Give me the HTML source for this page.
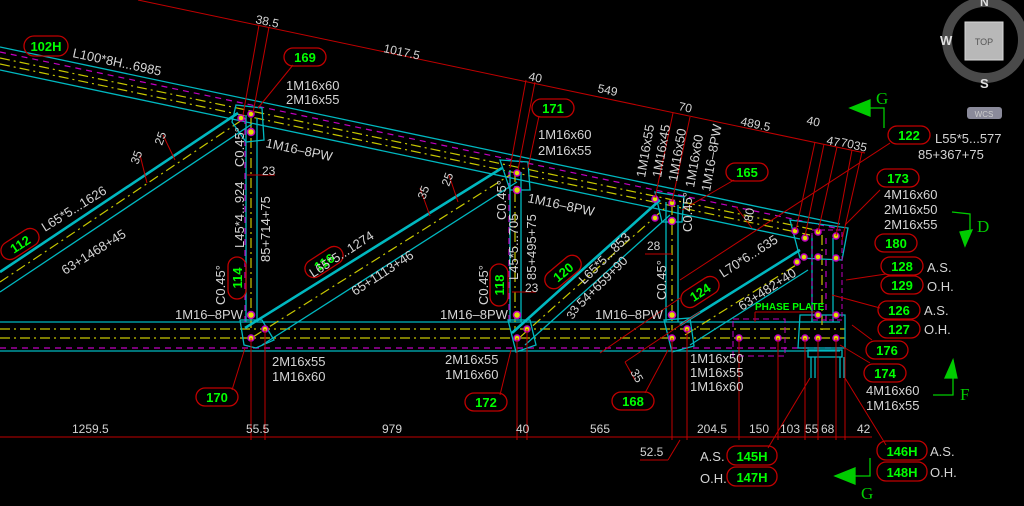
<!DOCTYPE html>
<html><head><meta charset="utf-8"><style>
html,body{margin:0;padding:0;background:#000;}
svg{display:block}
text{font-family:"Liberation Sans",sans-serif;}
.w{fill:#d4d4d4;font-size:13px}
.g{fill:#00ff00;font-size:13px;font-weight:bold;text-anchor:middle}
.d{fill:#d4d4d4;font-size:12px}
.box{fill:none;stroke:#c00000;stroke-width:1.3}
.cy{stroke:#00b8c0;stroke-width:1.3;fill:none}
.cyb{stroke:#00b8c0;stroke-width:2.6;fill:none}
.ye{stroke:#c8c800;stroke-width:1.2;stroke-dasharray:10 4 2 4;fill:none}
.mg{stroke:#c000c0;stroke-width:1.2;stroke-dasharray:6 5;fill:none}
.r{stroke:#c00000;stroke-width:1;fill:none}
.bolt{fill:#e0e000;stroke:#c000c0;stroke-width:1.5}
</style></head><body>
<svg width="1024" height="506" viewBox="0 0 1024 506" xmlns="http://www.w3.org/2000/svg">
<rect width="1024" height="506" fill="#000"/>

<line class="r" x1="138" y1="0" x2="865" y2="153"/>
<line class="r" x1="0" y1="437" x2="872" y2="437"/>

<line class="cy" x1="0" y1="47" x2="840" y2="224"/>
<line class="cy" x1="0" y1="70" x2="800" y2="239"/>
<line class="mg" x1="0" y1="52" x2="840" y2="229"/>
<line class="ye" x1="0" y1="58" x2="820" y2="231"/>
<line class="ye" x1="0" y1="64" x2="810" y2="235"/>

<line class="cy" x1="0" y1="322" x2="840" y2="322"/>
<line class="cy" x1="0" y1="351" x2="840" y2="351"/>
<line class="ye" x1="0" y1="329" x2="845" y2="329"/>
<line class="ye" x1="0" y1="338" x2="845" y2="338"/>
<line class="mg" x1="0" y1="348" x2="845" y2="348"/>

<g>
<line class="cy" x1="246" y1="115" x2="246" y2="322"/><line class="cy" x1="257" y1="118" x2="257" y2="322"/>
<line class="ye" x1="251" y1="118" x2="251" y2="330"/><line class="mg" x1="245" y1="118" x2="245" y2="322"/>
<line class="cy" x1="510" y1="170" x2="510" y2="322"/><line class="cy" x1="521" y1="172" x2="521" y2="322"/>
<line class="ye" x1="515" y1="172" x2="515" y2="330"/><line class="mg" x1="509" y1="172" x2="509" y2="322"/>
<line class="cy" x1="666" y1="202" x2="666" y2="322"/><line class="cy" x1="678" y1="205" x2="678" y2="322"/>
<line class="ye" x1="672" y1="205" x2="672" y2="330"/>
<line class="cy" x1="812" y1="235" x2="812" y2="322"/><line class="cy" x1="833" y1="238" x2="833" y2="322"/>
<line class="ye" x1="822" y1="235" x2="822" y2="330"/><line class="mg" x1="826" y1="238" x2="826" y2="322"/>
</g>

<line class="cyb" x1="0" y1="272" x2="238" y2="113"/>
<line class="cy" x1="0" y1="292" x2="252" y2="124"/>
<line class="ye" x1="0" y1="282" x2="245" y2="118"/>
<line class="cyb" x1="245" y1="328" x2="502" y2="168"/>
<line class="cy" x1="262" y1="345" x2="517" y2="182"/>
<line class="ye" x1="253" y1="337" x2="510" y2="175"/>
<line class="cyb" x1="512" y1="333" x2="660" y2="200"/>
<line class="cy" x1="525" y1="345" x2="670" y2="215"/>
<line class="ye" x1="518" y1="339" x2="665" y2="208"/>
<line class="cyb" x1="680" y1="325" x2="800" y2="250"/>
<line class="cy" x1="690" y1="345" x2="808" y2="270"/>
<line class="ye" x1="685" y1="335" x2="804" y2="260"/>

<g class="cy">
<polygon points="236,105 262,108 264,140 246,142 232,122"/>
<polygon points="240,320 262,320 274,340 256,348 244,345"/>
<polygon points="500,160 528,162 530,190 510,190"/>
<polygon points="508,320 530,320 536,345 516,352"/>
<polygon points="655,192 684,197 682,222 662,222"/>
<polygon points="664,320 690,318 694,346 672,352"/>
<polygon points="790,220 848,228 842,260 800,258"/>
<polygon points="800,315 845,315 845,348 798,348"/>
<rect x="808" y="350" width="34" height="7"/>
<line x1="811" y1="357" x2="811" y2="378"/><line x1="815" y1="357" x2="815" y2="378"/>
<line x1="840" y1="357" x2="840" y2="378"/><line x1="844" y1="357" x2="844" y2="378"/>
</g>
<rect x="733" y="319" width="52" height="37" fill="none" stroke="#c000c0" stroke-dasharray="6 4"/>
<rect x="812" y="230" width="30" height="90" fill="none" stroke="#c000c0" stroke-dasharray="5 3"/>

<g>
<circle class="bolt" cx="241" cy="118" r="3"/><circle class="bolt" cx="251" cy="114" r="3"/><circle class="bolt" cx="251" cy="132" r="3.5"/>
<circle class="bolt" cx="251" cy="315" r="3.5"/><circle class="bolt" cx="251" cy="338" r="3"/><circle class="bolt" cx="265" cy="329" r="3"/>
<circle class="bolt" cx="517" cy="173" r="3"/><circle class="bolt" cx="517" cy="190" r="3.5"/>
<circle class="bolt" cx="517" cy="315" r="3.5"/><circle class="bolt" cx="517" cy="338" r="3"/><circle class="bolt" cx="527" cy="329" r="3"/>
<circle class="bolt" cx="655" cy="199" r="3"/><circle class="bolt" cx="672" cy="203" r="3"/><circle class="bolt" cx="655" cy="218" r="3"/><circle class="bolt" cx="672" cy="221" r="3.5"/>
<circle class="bolt" cx="672" cy="315" r="3.5"/><circle class="bolt" cx="672" cy="338" r="3"/><circle class="bolt" cx="687" cy="329" r="3"/>
<circle class="bolt" cx="795" cy="231" r="3"/><circle class="bolt" cx="805" cy="238" r="3"/><circle class="bolt" cx="818" cy="232" r="3"/><circle class="bolt" cx="836" cy="236" r="3"/>
<circle class="bolt" cx="818" cy="257" r="3"/><circle class="bolt" cx="836" cy="258" r="3"/>
<circle class="bolt" cx="804" cy="257" r="3"/><circle class="bolt" cx="797" cy="262" r="3"/>
<circle class="bolt" cx="818" cy="315" r="3"/><circle class="bolt" cx="836" cy="315" r="3"/>
<circle class="bolt" cx="805" cy="338" r="3"/><circle class="bolt" cx="818" cy="338" r="3"/><circle class="bolt" cx="836" cy="338" r="3"/>
<circle class="bolt" cx="739" cy="338" r="3"/><circle class="bolt" cx="778" cy="338" r="3"/>
</g>

<g class="r">
<line x1="259" y1="25" x2="243" y2="115"/><line x1="269" y1="27" x2="253" y2="113"/>
<line x1="293" y1="65" x2="258" y2="108"/>
<line x1="251" y1="338" x2="251" y2="440"/><line x1="265" y1="329" x2="265" y2="440"/>
<line x1="245" y1="348" x2="232" y2="390"/>
<line x1="526" y1="80" x2="510" y2="168"/><line x1="535" y1="82" x2="518" y2="170"/>
<line x1="539" y1="116" x2="528" y2="168"/>
<line x1="673" y1="113" x2="655" y2="198"/><line x1="690" y1="117" x2="672" y2="202"/>
<line x1="734" y1="180" x2="682" y2="210"/>
<line x1="815" y1="142" x2="796" y2="230"/><line x1="824" y1="144" x2="805" y2="236"/><line x1="837" y1="147" x2="818" y2="232"/>
<line x1="852" y1="150" x2="836" y2="236"/><line x1="862" y1="152" x2="842" y2="240"/>
<line x1="890" y1="143" x2="680" y2="280"/>
<line x1="880" y1="190" x2="845" y2="225"/>
<line x1="517" y1="338" x2="517" y2="440"/><line x1="527" y1="329" x2="527" y2="440"/>
<line x1="511" y1="350" x2="500" y2="395"/>
<line x1="672" y1="338" x2="672" y2="440"/><line x1="687" y1="329" x2="687" y2="440"/>
<line x1="668" y1="350" x2="645" y2="393"/>
<line x1="739" y1="338" x2="739" y2="440"/><line x1="778" y1="338" x2="778" y2="440"/>
<line x1="805" y1="338" x2="805" y2="440"/><line x1="818" y1="338" x2="818" y2="440"/><line x1="836" y1="338" x2="836" y2="440"/>
<line x1="845" y1="348" x2="845" y2="440"/>
<line x1="846" y1="280" x2="886" y2="274"/><line x1="832" y1="295" x2="880" y2="308"/>
<line x1="852" y1="325" x2="872" y2="340"/><line x1="840" y1="345" x2="870" y2="363"/>
<line x1="810" y1="378" x2="768" y2="448"/><line x1="845" y1="378" x2="886" y2="445"/>
<line x1="680" y1="440" x2="668" y2="460"/><line x1="668" y1="460" x2="640" y2="460"/>
<line x1="600" y1="353" x2="680" y2="298"/><line x1="625" y1="362" x2="700" y2="312"/>
<line x1="625" y1="362" x2="635" y2="380"/>
<line x1="140" y1="155" x2="147" y2="183"/><line x1="163" y1="135" x2="175" y2="160"/>
<line x1="420" y1="188" x2="430" y2="216"/><line x1="449" y1="175" x2="458" y2="202"/>
<line x1="736" y1="207" x2="752" y2="228"/>
<line x1="247" y1="175" x2="275" y2="175"/>
<line x1="512" y1="292" x2="536" y2="292"/>
<line x1="645" y1="254" x2="672" y2="254"/>
<line x1="755" y1="312" x2="815" y2="312"/><line x1="755" y1="312" x2="755" y2="322"/>
</g>

<circle cx="985" cy="40" r="38" fill="none" stroke="#4a4a4a" stroke-width="10"/>
<rect x="965" y="22" width="38" height="38" fill="#b8b8b8" stroke="#d8d8d8"/>
<text x="984" y="45" style="font-size:9px;fill:#555;text-anchor:middle">TOP</text>
<text x="940" y="45" style="font-size:13px;fill:#e0e0e0;font-weight:bold">W</text>
<text x="980" y="88" style="font-size:13px;fill:#e0e0e0;font-weight:bold">S</text>
<text x="980" y="6" style="font-size:12px;fill:#e0e0e0;font-weight:bold">N</text>
<rect x="967" y="107" width="35" height="12" rx="3" fill="#8a8a9a"/>
<text x="984" y="117" style="font-size:8px;fill:#ccc;text-anchor:middle">WCS</text>

<g fill="#00cc00" stroke="#00cc00" stroke-width="1.3">
<polygon points="850,108 870,100 870,116"/><polyline fill="none" points="850,108 884,108 884,128"/>
<text x="876" y="104" style="font-size:17px;font-family:'Liberation Serif',serif;stroke:none">G</text>
<polyline fill="none" points="952,212 970,214 970,230"/><polygon points="960,232 972,230 965,246"/>
<text x="977" y="232" style="font-size:17px;font-family:'Liberation Serif',serif;stroke:none">D</text>
<polygon points="945,378 953,360 957,378"/><polyline fill="none" points="953,360 953,395 933,395"/>
<text x="960" y="400" style="font-size:17px;font-family:'Liberation Serif',serif;stroke:none">F</text>
<polygon points="835,476 855,468 855,484"/><polyline fill="none" points="835,476 870,476 870,458"/>
<text x="861" y="499" style="font-size:17px;font-family:'Liberation Serif',serif;stroke:none">G</text>
</g>

<g>
<rect class="box" x="24" y="36" width="44" height="20" rx="10"/><text class="g" x="46" y="51">102H</text>
<rect class="box" x="284" y="48" width="42" height="18" rx="9"/><text class="g" x="305" y="62">169</text>
<rect class="box" x="532" y="99" width="42" height="18" rx="9"/><text class="g" x="553" y="113">171</text>
<rect class="box" x="726" y="163" width="42" height="18" rx="9"/><text class="g" x="747" y="177">165</text>
<rect class="box" x="888" y="126" width="42" height="18" rx="9"/><text class="g" x="909" y="140">122</text>
<rect class="box" x="877" y="169" width="42" height="18" rx="9"/><text class="g" x="898" y="183">173</text>
<rect class="box" x="875" y="234" width="42" height="18" rx="9"/><text class="g" x="896" y="248">180</text>
<rect class="box" x="881" y="257" width="42" height="18" rx="9"/><text class="g" x="902" y="271">128</text>
<rect class="box" x="881" y="276" width="42" height="18" rx="9"/><text class="g" x="902" y="290">129</text>
<rect class="box" x="878" y="301" width="42" height="18" rx="9"/><text class="g" x="899" y="315">126</text>
<rect class="box" x="878" y="320" width="42" height="18" rx="9"/><text class="g" x="899" y="334">127</text>
<rect class="box" x="866" y="341" width="42" height="18" rx="9"/><text class="g" x="887" y="355">176</text>
<rect class="box" x="864" y="364" width="42" height="18" rx="9"/><text class="g" x="885" y="378">174</text>
<rect class="box" x="877" y="441" width="50" height="19" rx="9"/><text class="g" x="902" y="456">146H</text>
<rect class="box" x="877" y="462" width="50" height="19" rx="9"/><text class="g" x="902" y="477">148H</text>
<rect class="box" x="727" y="446" width="50" height="19" rx="9"/><text class="g" x="752" y="461">145H</text>
<rect class="box" x="727" y="467" width="50" height="19" rx="9"/><text class="g" x="752" y="482">147H</text>
<rect class="box" x="196" y="388" width="42" height="18" rx="9"/><text class="g" x="217" y="402">170</text>
<rect class="box" x="465" y="393" width="42" height="18" rx="9"/><text class="g" x="486" y="407">172</text>
<rect class="box" x="612" y="392" width="42" height="18" rx="9"/><text class="g" x="633" y="406">168</text>
<g transform="translate(237,278) rotate(-90)"><rect class="box" x="-21" y="-9" width="42" height="18" rx="9"/><text class="g" x="0" y="5">114</text></g>
<g transform="translate(499,285) rotate(-90)"><rect class="box" x="-21" y="-9" width="42" height="18" rx="9"/><text class="g" x="0" y="5">118</text></g>
<g transform="translate(20,244) rotate(-33)"><rect class="box" x="-21" y="-9" width="42" height="18" rx="9"/><text class="g" x="0" y="5">112</text></g>
<g transform="translate(324,262) rotate(-33)"><rect class="box" x="-21" y="-9" width="42" height="18" rx="9"/><text class="g" x="0" y="5">116</text></g>
<g transform="translate(563,272) rotate(-40)"><rect class="box" x="-21" y="-9" width="42" height="18" rx="9"/><text class="g" x="0" y="5">120</text></g>
<g transform="translate(700,292) rotate(-33)"><rect class="box" x="-21" y="-9" width="42" height="18" rx="9"/><text class="g" x="0" y="5">124</text></g>
</g>
<text x="755" y="310" style="font-size:10px;fill:#00ff00;font-weight:bold">PHASE PLATE</text>

<g class="w">
<text transform="translate(72,57) rotate(12)">L100*8H...6985</text>
<text transform="translate(255,23) rotate(12)" class="d">38.5</text>
<text transform="translate(383,52) rotate(12)" class="d">1017.5</text>
<text x="286" y="90">1M16x60</text><text x="286" y="104">2M16x55</text>
<text transform="translate(265,147) rotate(12)">1M16–8PW</text>
<text x="262" y="175" class="d">23</text>
<text transform="translate(244,167) rotate(-90)">C0.45°</text>
<text transform="translate(244,248) rotate(-90)">L45*4...924</text>
<text transform="translate(270,262) rotate(-90)">85+714+75</text>
<text transform="translate(225,305) rotate(-90)">C0.45°</text>
<text transform="translate(45,232) rotate(-32)">L65*5...1626</text>
<text transform="translate(65,275) rotate(-32)">63+1468+45</text>
<text transform="translate(138,165) rotate(-70)" class="d">35</text>
<text transform="translate(162,146) rotate(-70)" class="d">25</text>
<text x="175" y="319">1M16–8PW</text>
<text x="272" y="366">2M16x55</text><text x="272" y="381">1M16x60</text>
<text transform="translate(313,278) rotate(-33)">L65*5...1274</text>
<text transform="translate(355,296) rotate(-33)">65+1113+46</text>
<text transform="translate(425,200) rotate(-70)" class="d">35</text>
<text transform="translate(449,187) rotate(-70)" class="d">25</text>
<text transform="translate(506,220) rotate(-90)">C0.45°</text>
<text transform="translate(518,280) rotate(-90)">L45*5...705</text>
<text transform="translate(536,280) rotate(-90)">85+495+75</text>
<text x="525" y="292" class="d">23</text>
<text transform="translate(488,305) rotate(-90)">C0.45°</text>
<text x="440" y="319">1M16–8PW</text>
<text x="445" y="364">2M16x55</text><text x="445" y="379">1M16x60</text>
<text x="538" y="139">1M16x60</text><text x="538" y="155">2M16x55</text>
<text transform="translate(527,202) rotate(12)">1M16–8PW</text>
<text transform="translate(528,80) rotate(12)" class="d">40</text>
<text transform="translate(597,92) rotate(12)" class="d">549</text>
<text transform="translate(678,110) rotate(12)" class="d">70</text>
<text transform="translate(740,125) rotate(12)" class="d">489.5</text>
<text transform="translate(806,124) rotate(12)" class="d">40</text>
<text transform="translate(826,144) rotate(12)" class="d">47</text>
<text transform="translate(840,146) rotate(12)" class="d">70</text>
<text transform="translate(853,149) rotate(12)" class="d">35</text>
<text transform="translate(645,178) rotate(-80)">1M16x55</text>
<text transform="translate(661,178) rotate(-80)">1M16x45</text>
<text transform="translate(677,182) rotate(-80)">1M16x50</text>
<text transform="translate(694,188) rotate(-80)">1M16x60</text>
<text transform="translate(710,192) rotate(-80)">1M16–8PW</text>
<text transform="translate(584,285) rotate(-45)">L65*5...853</text>
<text transform="translate(582,308) rotate(-45)">54+659+90</text>
<text transform="translate(573,320) rotate(-60)" class="d">33</text>
<text transform="translate(692,232) rotate(-90)">C0.45°</text>
<text x="647" y="250" class="d">28</text>
<text transform="translate(666,300) rotate(-90)">C0.45°</text>
<text x="595" y="319">1M16–8PW</text>
<text transform="translate(723,278) rotate(-33)">L70*6...635</text>
<text transform="translate(742,311) rotate(-33)">63+482+40</text>
<text transform="translate(752,222) rotate(-80)" class="d">80</text>
<text transform="translate(630,372) rotate(60)" class="d">35</text>
<text x="690" y="363">1M16x50</text><text x="690" y="377">1M16x55</text><text x="690" y="391">1M16x60</text>
<text x="935" y="143">L55*5...577</text><text x="918" y="159">85+367+75</text>
<text x="884" y="199">4M16x60</text><text x="884" y="214">2M16x50</text><text x="884" y="229">2M16x55</text>
<text x="927" y="272">A.S.</text><text x="927" y="291">O.H.</text>
<text x="924" y="315">A.S.</text><text x="924" y="334">O.H.</text>
<text x="866" y="395">4M16x60</text><text x="866" y="410">1M16x55</text>
<text x="930" y="456">A.S.</text><text x="930" y="477">O.H.</text>
<text x="700" y="461">A.S.</text><text x="700" y="483">O.H.</text>
<text x="72" y="433" class="d">1259.5</text><text x="246" y="433" class="d">55.5</text>
<text x="382" y="433" class="d">979</text><text x="516" y="433" class="d">40</text>
<text x="590" y="433" class="d">565</text><text x="697" y="433" class="d">204.5</text>
<text x="749" y="433" class="d">150</text><text x="780" y="433" class="d">103</text>
<text x="805" y="433" class="d">55</text><text x="821" y="433" class="d">68</text>
<text x="857" y="433" class="d">42</text>
<text x="640" y="456" class="d">52.5</text>
</g>
</svg>
</body></html>
